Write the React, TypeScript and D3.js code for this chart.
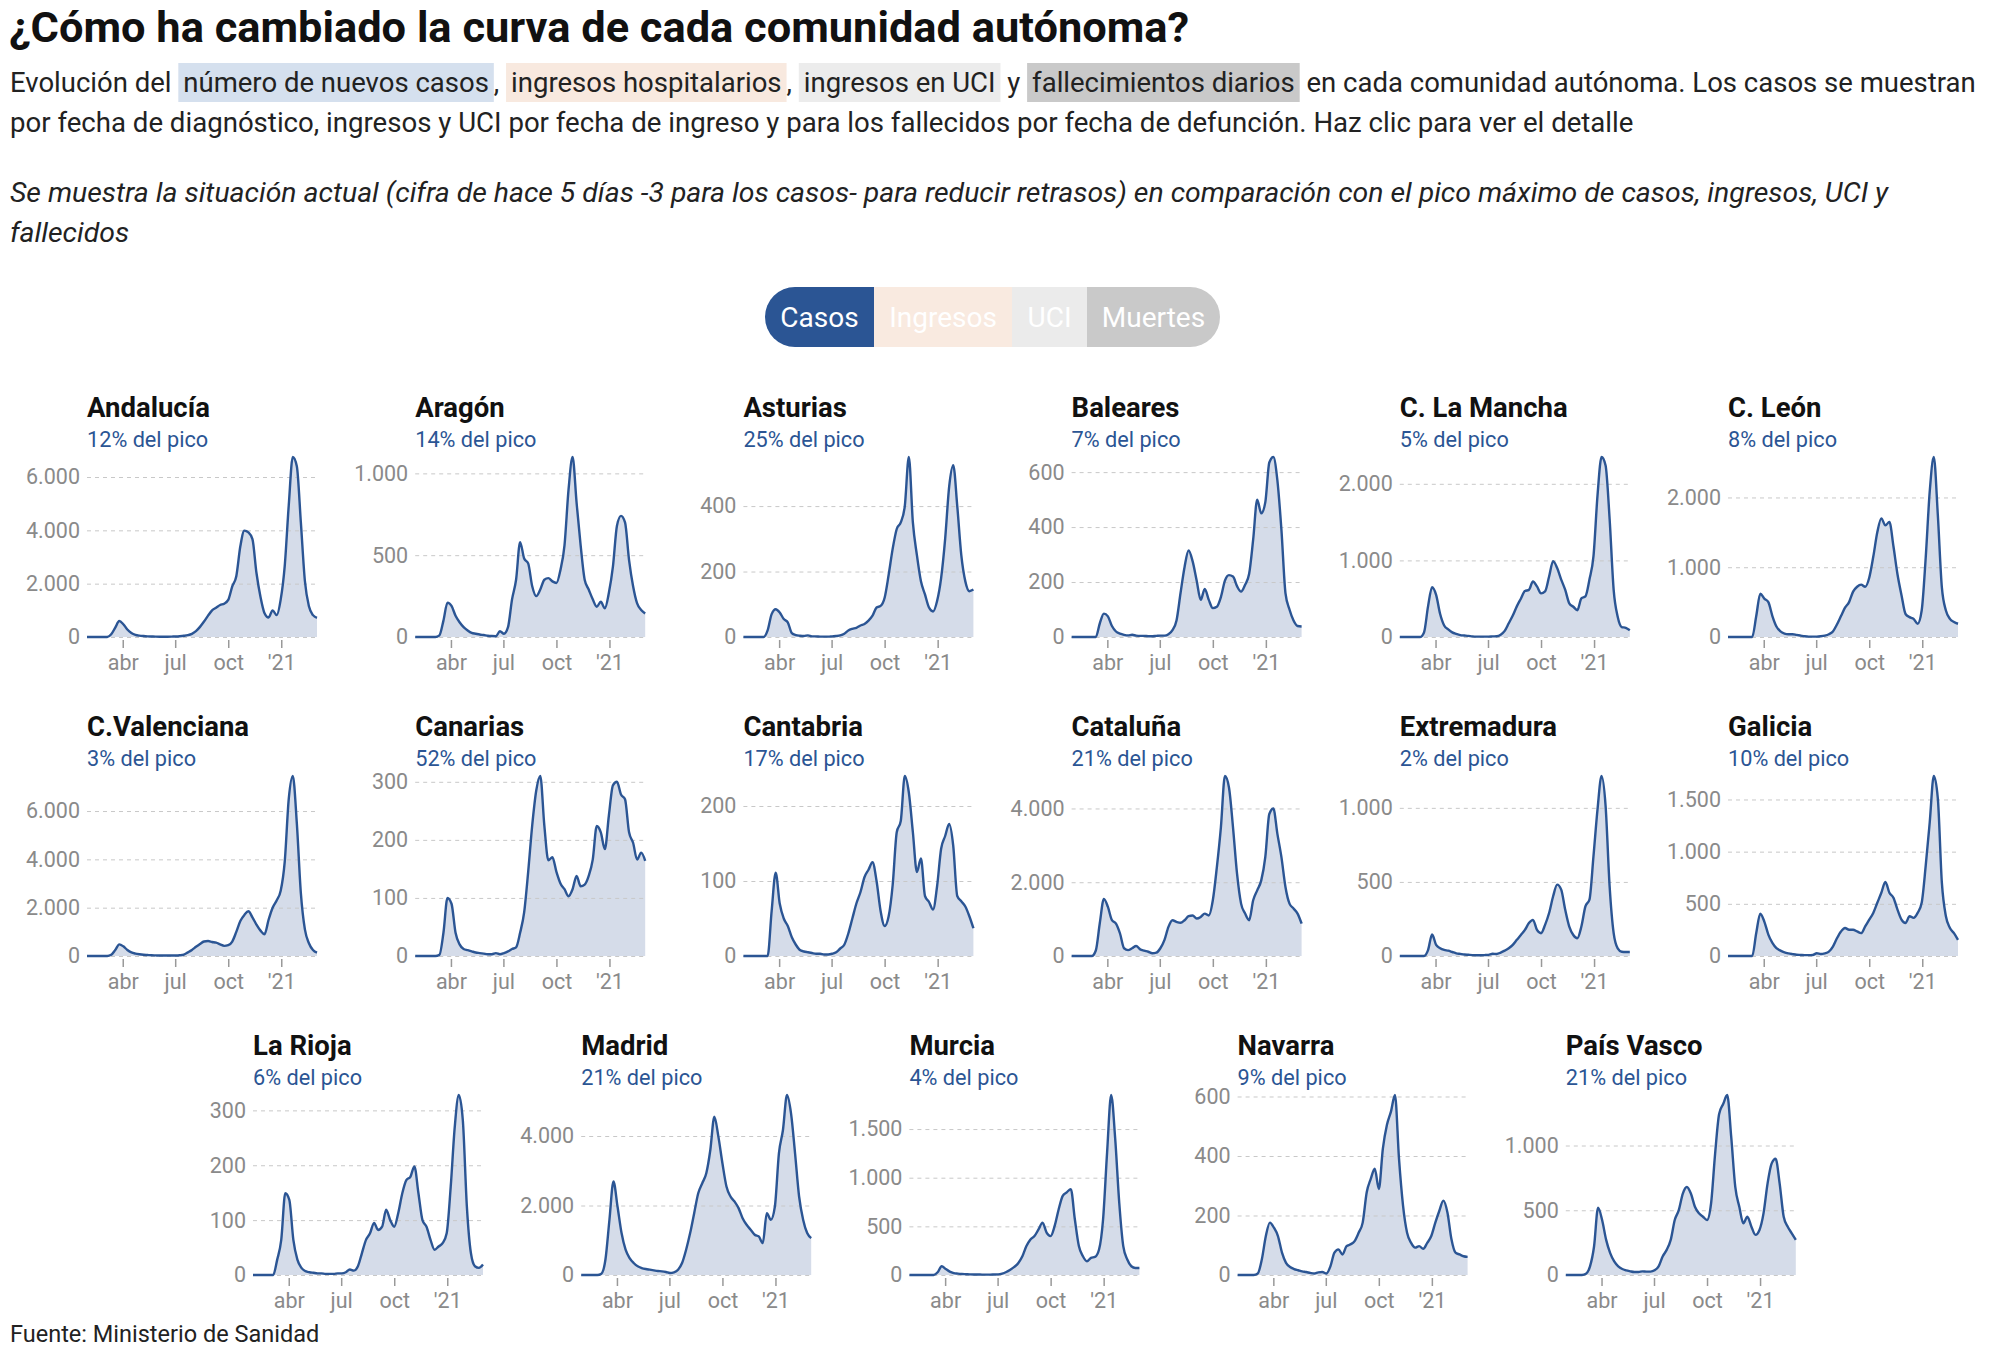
import { useEffect, useRef } from 'react';
import * as d3 from 'd3';

// ---- data (weekly samples, 30 Jan 2020 -> 4 Mar 2021) ----
const regions = [
  'Andalucía', 'Aragón', 'Asturias', 'Baleares', 'C. La Mancha', 'C. León',
  'C.Valenciana', 'Canarias', 'Cantabria', 'Cataluña', 'Extremadura', 'Galicia',
  'La Rioja', 'Madrid', 'Murcia', 'Navarra', 'País Vasco',
];
const peakLabels = [
  '12% del pico', '14% del pico', '25% del pico', '7% del pico', '5% del pico', '8% del pico',
  '3% del pico', '52% del pico', '17% del pico', '21% del pico', '2% del pico', '10% del pico',
  '6% del pico', '21% del pico', '4% del pico', '9% del pico', '21% del pico',
];

const andalucia = [0,0,0,0,0,0,100,350,600,480,280,150,80,50,35,25,20,15,12,10,10,15,20,30,45,70,120,220,380,580,800,1000,1100,1200,1250,1390,1900,2280,3400,3990,3920,3670,2400,1500,890,730,1000,820,1400,2660,4940,6750,6400,4300,2100,1150,820,720];
const aragon = [0,0,0,0,0,0,10,100,210,190,130,90,60,40,25,20,15,12,8,6,5,35,20,60,230,350,580,480,450,310,250,290,350,360,340,330,410,560,900,1100,820,560,350,290,230,185,215,175,270,430,680,740,700,470,310,205,165,144];
const asturias = [0,0,0,0,0,0,20,70,85,75,55,45,12,6,4,3,5,2,2,1,1,1,2,3,5,10,20,25,28,35,40,50,65,90,95,120,190,270,330,350,400,550,350,250,170,130,90,78,110,180,300,460,525,400,250,170,140,145];
const baleares = [0,0,0,0,0,0,0,50,85,75,40,20,12,8,6,8,5,4,4,3,3,4,5,5,10,25,60,160,255,315,275,205,135,175,135,105,110,145,205,225,220,185,165,190,230,355,500,450,490,635,655,570,390,160,100,60,40,38];
const laMancha = [0,0,0,0,0,0,60,400,650,550,300,150,100,60,40,25,20,15,8,5,5,5,5,8,10,30,80,180,280,400,500,600,615,725,660,570,595,790,990,900,750,615,440,395,350,505,530,750,1055,1850,2350,2240,1540,615,265,130,120,88];
const leon = [0,0,0,0,0,0,0,300,620,550,500,300,150,80,50,40,40,30,20,10,5,5,5,10,20,40,80,180,300,420,500,650,720,750,720,850,1150,1500,1700,1600,1650,1300,900,600,330,285,260,190,380,1140,2090,2580,1750,710,380,260,215,190];
const valenciana = [0,0,0,0,0,0,50,250,480,400,250,150,100,70,50,40,30,25,20,20,20,20,20,30,60,150,250,380,500,600,620,580,550,480,420,450,600,1000,1450,1700,1850,1600,1300,1050,900,1500,2000,2300,2700,3900,6500,7450,5500,2600,1100,530,250,140];
const canarias = [0,0,0,0,0,0,2,40,100,90,40,20,12,10,8,6,5,4,3,3,5,3,5,8,12,15,40,75,145,225,285,310,225,165,170,145,125,115,103,115,138,120,123,138,166,224,213,184,242,294,300,278,270,213,195,166,178,164];
const cantabria = [0,0,0,0,0,0,0,60,111,70,50,40,25,15,8,6,5,4,3,3,2,2,3,5,10,15,30,50,70,85,105,115,125,100,60,40,53,95,165,180,240,218,165,112,130,80,72,62,93,143,160,176,147,80,73,66,53,37];
const cataluna = [0,0,0,0,0,0,150,900,1550,1330,970,880,610,210,160,210,270,180,145,115,75,90,210,430,790,970,925,900,970,1080,1100,1015,1060,1150,1100,1510,2410,3490,4880,4570,3490,2230,1420,1150,970,1510,1780,2050,2680,3850,4000,3310,2680,1870,1420,1290,1150,880];
const extremadura = [0,0,0,0,0,0,0,40,145,75,52,41,36,27,18,14,10,8,6,5,5,6,8,15,14,23,36,52,75,109,142,176,222,244,176,154,210,290,403,482,448,312,199,142,120,199,335,380,674,990,1215,1013,470,154,52,29,27,27];
const galicia = [0,0,0,0,0,0,0,220,405,330,205,125,75,52,35,25,18,12,10,8,8,10,26,19,26,42,90,170,235,268,252,252,235,219,284,348,413,510,606,710,606,558,445,348,316,381,365,413,510,865,1284,1725,1510,703,381,268,219,155];
const rioja = [0,0,0,0,0,0,28,64,149,137,64,28,13,7,5,4,3,3,2,2,2,3,3,5,10,8,16,40,64,76,95,82,88,119,100,88,113,149,173,179,198,149,100,88,64,46,52,58,76,161,270,328,282,125,40,16,13,19];
const madrid = [0,0,0,0,0,38,440,1590,2690,1970,1206,727,488,345,249,201,172,153,134,115,105,86,57,77,153,345,727,1206,1780,2354,2641,2928,3598,4555,3981,3215,2546,2259,2115,1924,1636,1445,1302,1158,1110,919,1780,1589,1971,3503,4173,5180,4651,3503,2259,1589,1206,1062];
const murcia = [0,0,0,0,0,0,0,28,90,62,35,20,14,10,8,6,5,5,4,4,4,5,6,14,31,55,83,124,193,297,366,400,469,538,435,400,504,676,814,849,883,573,297,193,141,176,186,262,573,1263,1850,1401,745,297,159,90,72,72];
const navarra = [0,0,0,0,0,5,52,131,176,159,131,75,41,27,20,16,12,10,7,5,9,10,5,29,75,86,69,97,103,114,142,176,278,323,357,289,425,504,549,605,391,233,142,108,92,97,88,108,131,176,216,250,210,120,75,69,63,61];
const paisVasco = [0,0,0,0,0,10,67,220,520,425,271,169,105,67,46,36,28,23,23,28,26,26,36,67,143,194,271,425,501,629,680,629,527,476,450,425,552,936,1243,1320,1390,1064,680,527,399,450,373,310,348,476,706,860,898,706,450,373,322,271];

const series = [
  andalucia, aragon, asturias, baleares, laMancha, leon,
  valenciana, canarias, cantabria, cataluna, extremadura, galicia,
  rioja, madrid, murcia, navarra, paisVasco,
];

const tickDates = [new Date(2020, 3, 1), new Date(2020, 6, 1), new Date(2020, 9, 1), new Date(2021, 0, 1)];
const tickLabels = ['abr', 'jul', 'oct', "'21"];

const modes = ['Casos', 'Ingresos', 'UCI', 'Muertes'];
const modeColors = ['#2b5594', '#f9eae0', '#ebebeb', '#c9c9c9'];

const title = '¿Cómo ha cambiado la curva de cada comunidad autónoma?';
const introLine1 = [
  { text: 'Evolución del ', bg: '' },
  { text: 'número de nuevos casos', bg: '#d5e0ee' },
  { text: ', ', bg: '' },
  { text: 'ingresos hospitalarios', bg: '#f8e9df' },
  { text: ', ', bg: '' },
  { text: 'ingresos en UCI', bg: '#ececec' },
  { text: ' y ', bg: '' },
  { text: 'fallecimientos diarios', bg: '#c9c9c9' },
  { text: ' en cada comunidad autónoma. Los casos se muestran', bg: '' },
];
const introLine2 = 'por fecha de diagnóstico, ingresos y UCI por fecha de ingreso y para los fallecidos por fecha de defunción. Haz clic para ver el detalle';
const noteLines = [
  'Se muestra la situación actual (cifra de hace 5 días -3 para los casos- para reducir retrasos) en comparación con el pico máximo de casos, ingresos, UCI y',
  'fallecidos',
];
const source = 'Fuente: Ministerio de Sanidad';

const FONT = 'Roboto, sans-serif';
const BLUE = '#2b5594';

const esLocale = d3.formatLocale({ decimal: ',', thousands: '.', grouping: [3], currency: ['', ' €'] });
const fmt = esLocale.format(',');

export default function App() {
  const svgRef = useRef<SVGSVGElement>(null);

  useEffect(() => {
    if (!svgRef.current) return;
    const width = 2000;
    const height = 1364;
    const svg = d3.select(svgRef.current);
    svg.selectAll('*').remove();
    svg.attr('width', width).attr('height', height).style('font-family', FONT);

    svg.append('rect').attr('width', width).attr('height', height).attr('fill', '#fff');

    // Title
    svg.append('text')
      .attr('x', 9)
      .attr('y', 42)
      .attr('font-size', 43.4)
      .attr('font-weight', 700)
      .attr('fill', '#111')
      .text(title);

    // Intro line 1 with highlighted words
    const pad = 5;
    let cx = 10;
    const line1Y = 92;
    const hl = svg.append('g');
    const tl = svg.append('g');
    introLine1.forEach(seg => {
      if (seg.bg) cx += pad;
      const t = tl.append('text')
        .attr('x', cx)
        .attr('y', line1Y)
        .attr('font-size', 27.5)
        .attr('fill', '#222')
        .style('white-space', 'pre')
        .text(seg.text);
      const w = (t.node() as SVGTextElement).getComputedTextLength();
      if (seg.bg) {
        hl.append('rect')
          .attr('x', cx - pad)
          .attr('y', line1Y - 29)
          .attr('width', w + pad * 2)
          .attr('height', 39)
          .attr('fill', seg.bg);
      }
      cx += w + (seg.bg ? pad : 0);
    });

    svg.append('text')
      .attr('x', 10)
      .attr('y', 132)
      .attr('font-size', 27.6)
      .attr('fill', '#222')
      .text(introLine2);

    noteLines.forEach((line, i) => {
      svg.append('text')
        .attr('x', 10)
        .attr('y', 202 + i * 40)
        .attr('font-size', 28.4)
        .attr('font-style', 'italic')
        .attr('fill', '#222')
        .text(line);
    });

    // Mode buttons
    const btnEdges = [765, 874, 1012, 1087, 1220];
    const btnY = 287;
    const btnH = 60;
    svg.append('clipPath').attr('id', 'btn-clip')
      .append('rect')
      .attr('x', btnEdges[0])
      .attr('y', btnY)
      .attr('width', btnEdges[4] - btnEdges[0])
      .attr('height', btnH)
      .attr('rx', btnH / 2);
    const btns = svg.append('g').attr('clip-path', 'url(#btn-clip)');
    modes.forEach((m, i) => {
      btns.append('rect')
        .attr('x', btnEdges[i])
        .attr('y', btnY)
        .attr('width', btnEdges[i + 1] - btnEdges[i])
        .attr('height', btnH)
        .attr('fill', modeColors[i]);
      btns.append('text')
        .attr('x', (btnEdges[i] + btnEdges[i + 1]) / 2)
        .attr('y', btnY + 40)
        .attr('text-anchor', 'middle')
        .attr('font-size', 28)
        .attr('fill', '#fff')
        .text(m);
    });

    // Small multiples
    const dates = d3.timeDay.range(new Date(2020, 0, 30), new Date(2021, 2, 5), 7);
    const plotW = 230;
    const plotH = 180;
    const colStep = 328.2;
    const rowStep = 319;

    regions.forEach((name, i) => {
      const row = Math.floor(i / 6);
      const col = i % 6;
      const left = (row === 2 ? 253 : 87) + col * colStep;
      const zero = 637 + row * rowStep;
      const values = series[i];

      const x = d3.scaleTime()
        .domain([dates[0], dates[dates.length - 1]])
        .range([left, left + plotW]);
      const y = d3.scaleLinear()
        .domain([0, d3.max(values) as number])
        .range([zero, zero - plotH]);

      const g = svg.append('g');

      g.append('text')
        .attr('x', left)
        .attr('y', zero - 220)
        .attr('font-size', 27.5)
        .attr('font-weight', 700)
        .attr('fill', '#111')
        .text(name);

      g.append('text')
        .attr('x', left)
        .attr('y', zero - 190)
        .attr('font-size', 21.7)
        .attr('fill', BLUE)
        .text(peakLabels[i]);

      const pts = values.map((v, k) => ({ date: dates[k], v }));

      const area = d3.area<{ date: Date; v: number }>()
        .x(d => x(d.date))
        .y0(zero)
        .y1(d => y(d.v))
        .curve(d3.curveMonotoneX);

      const line = d3.line<{ date: Date; v: number }>()
        .x(d => x(d.date))
        .y(d => y(d.v))
        .curve(d3.curveMonotoneX);

      g.append('path')
        .datum(pts)
        .attr('d', area)
        .attr('fill', '#d5dce9');

      // Y grid + labels
      const yAxis = g.append('g')
        .attr('transform', `translate(${left},0)`)
        .call(d3.axisLeft(y).tickValues(y.ticks(3)).tickSize(-plotW).tickPadding(7).tickFormat(d => fmt(d as number)));
      yAxis.select('.domain').remove();
      yAxis.selectAll('line')
        .attr('stroke', '#c8c8c8')
        .attr('stroke-dasharray', '4,4');
      yAxis.selectAll('text')
        .attr('font-size', 21.5)
        .attr('font-family', FONT)
        .attr('fill', '#8a8a8a');

      g.append('path')
        .datum(pts)
        .attr('d', line)
        .attr('fill', 'none')
        .attr('stroke', BLUE)
        .attr('stroke-width', 2.4)
        .attr('stroke-linejoin', 'round');

      // X axis
      const xAxis = g.append('g')
        .attr('transform', `translate(0,${zero + 3})`)
        .call(d3.axisBottom(x).tickValues(tickDates).tickSize(8).tickPadding(7).tickFormat((_, k) => tickLabels[k]));
      xAxis.select('.domain').remove();
      xAxis.selectAll('line').attr('stroke', '#999').attr('stroke-width', 1.5);
      xAxis.selectAll('text')
        .attr('font-size', 21.5)
        .attr('font-family', FONT)
        .attr('fill', '#8a8a8a');
    });

    svg.append('text')
      .attr('x', 10)
      .attr('y', 1342)
      .attr('font-size', 23.5)
      .attr('fill', '#222')
      .text(source);
  }, []);

  return (
    <svg
      ref={svgRef}
      style={{ position: 'absolute', left: 0, top: 0, display: 'block' }}
    />
  );
}
